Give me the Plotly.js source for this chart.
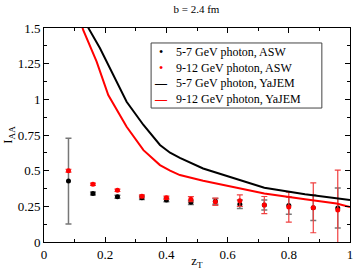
<!DOCTYPE html>
<html><head><meta charset="utf-8">
<script src="https://cdn.plot.ly/plotly-3.0.1.min.js"></script>
<style>html,body{margin:0;padding:0;background:#fff}</style>
</head><body>
<div id="chart" style="width:354px;height:270px"></div>
<script>
// ASW points
const zT = [0.08,0.16,0.24,0.32,0.40,0.48,0.56,0.64,0.72,0.80,0.88,0.96];
const aswLow = [0.427,0.34,0.317,0.31,0.294,0.278,0.285,0.264,0.26,0.255,0.24,0.238];
const aswLowErr = [0.30,0.01,0.01,0.012,0.012,0.015,0.02,0.03,0.035,0.06,0.09,0.14];
const aswHigh = [0.50,0.404,0.362,0.32,0.31,0.30,0.282,0.29,0.259,0.245,0.24,0.224];
const aswHighErr = [0.01,0.008,0.008,0.01,0.012,0.018,0.025,0.04,0.06,0.105,0.175,0.28];
// YaJEM curves
const yjLowZ = [0.12,0.145,0.183,0.227,0.27,0.325,0.379,0.412,0.444,0.52,0.63,0.72,0.853,0.945,1.0];
const yjLow  = [1.72,1.5,1.358,1.17,0.983,0.82,0.68,0.626,0.59,0.515,0.44,0.38,0.334,0.31,0.294];
const yjHighZ = [0.11,0.128,0.172,0.21,0.27,0.325,0.379,0.412,0.444,0.52,0.63,0.72,0.853,0.956,1.0];
const yjHigh  = [1.62,1.486,1.264,1.03,0.808,0.644,0.539,0.50,0.469,0.43,0.38,0.34,0.30,0.27,0.245];
const names = ["5-7 GeV photon, ASW","9-12 GeV photon, ASW","5-7 GeV photon, YaJEM","9-12 GeV photon, YaJEM"];
const colors = ["black","red","black","red"];
const glyphs = ["•","•","<b>—</b>","<b>—</b>"];

const serif = "Liberation Serif, Times New Roman, serif";
const traces = [
  {x:zT, y:aswLow, name:names[0], mode:"markers", type:"scatter",
   marker:{color:"black", size:5},
   error_y:{type:"data", array:aswLowErr, color:"#777", thickness:1.5, width:3}},
  {x:zT, y:aswHigh, name:names[1], mode:"markers", type:"scatter",
   marker:{color:"red", size:5},
   error_y:{type:"data", array:aswHighErr, color:"#f04040", thickness:1.2, width:3}},
  {x:yjLowZ, y:yjLow, name:names[2], mode:"lines", type:"scatter",
   line:{color:"black", width:2}},
  {x:yjHighZ, y:yjHigh, name:names[3], mode:"lines", type:"scatter",
   line:{color:"red", width:2}}
];
const axisCommon = {showline:true, linecolor:"black", linewidth:1, mirror:"ticks",
  ticks:"inside", ticklen:5, tickcolor:"black", showgrid:false, zeroline:false,
  tickfont:{family:serif, size:13, color:"black"}};
const legFont = {family:serif, size:12, color:"black"};
const layout = {
  width:354, height:270,
  margin:{l:44, r:4, t:28, b:28},
  paper_bgcolor:"white", plot_bgcolor:"white",
  showlegend:false,
  title:{text:"b = 2.4 fm", font:{family:serif, size:11, color:"black"}, x:0.555, xanchor:"center", y:0.965, yanchor:"middle"},
  xaxis:Object.assign({}, axisCommon, {range:[0,1], dtick:0.2,
    minor:{dtick:0.1, ticks:"inside", ticklen:3, tickcolor:"black"},
    title:{text:"z<sub>T</sub>", font:{family:serif, size:13, color:"black"}, standoff:0}}),
  yaxis:Object.assign({}, axisCommon, {range:[0,1.5], dtick:0.25,
    minor:{dtick:0.125, ticks:"inside", ticklen:3, tickcolor:"black"},
    title:{text:"I<sub>AA</sub>", font:{family:serif, size:13, color:"black"}, standoff:2}}),
  shapes:[{type:"rect", xref:"paper", yref:"paper", x0:0.35, x1:0.908, y0:0.626, y1:0.93,
    line:{color:"#444", width:1}, fillcolor:"white", layer:"above"}],
  annotations:[
    {xref:"paper", yref:"paper", x:0.382, y:0.778, xanchor:"center", yanchor:"middle",
     align:"center", showarrow:false, font:legFont,
     text:glyphs.map((g,i)=>'<span style="color:'+colors[i]+'">'+g+'</span>').join("<br>")},
    {xref:"paper", yref:"paper", x:0.425, y:0.778, xanchor:"left", yanchor:"middle",
     align:"left", showarrow:false, font:legFont, text:names.join("<br>")}
  ]
};
Plotly.newPlot("chart", traces, layout, {displayModeBar:false, staticPlot:true});
</script>
</body></html>
